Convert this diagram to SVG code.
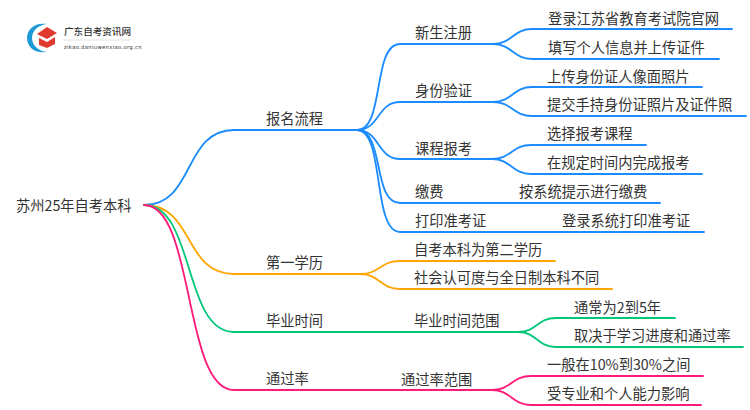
<svg xmlns="http://www.w3.org/2000/svg" width="750" height="410" viewBox="0 0 750 410">
<style>
text{font-family:"Noto Sans CJK SC","Noto Sans",sans-serif;font-size:14.25px;fill:#333}
.l{fill:none;stroke-width:1.8;stroke-linecap:round}
.b{stroke:#1a8cff}.o{stroke:#ffa500}.g{stroke:#00c878}.p{stroke:#ff1a7a}
</style>
<rect width="750" height="410" fill="#fff"/>
<g id="connectors">
<g class="l b">
<path d="M144 205C195 205 183 130 234 130H357"/>
<path d="M357 130C385 130 372 44 400 44H493"/>
<path d="M357 130C380 130 377 102 400 102H493"/>
<path d="M357 130C380 130 377 159 400 159H492"/>
<path d="M357 130C385 130 372 203 400 203H660"/>
<path d="M357 130C385 130 372 232 400 232H704"/>
<path d="M493 44C512 44 513 29 532 29H732"/>
<path d="M493 44C512 44 513 59 532 59H719"/>
<path d="M493 102C512 102 513 87 532 87H702"/>
<path d="M493 102C512 102 513 116 532 116H746"/>
<path d="M492 159C511 159 512 145 531 145H646"/>
<path d="M492 159C511 159 512 174 531 174H702"/>
</g>
<g class="l o">
<path d="M144 205C195 205 183 274 234 274H360"/>
<path d="M360 274C380 274 380 261 400 261H555"/>
<path d="M360 274C380 274 380 289 400 289H612"/>
</g>
<g class="l g">
<path d="M144 205C195 205 183 332 234 332H518"/>
<path d="M518 332C537 332 537 318 556 318H675"/>
<path d="M518 332C537 332 537 347 556 347H743"/>
</g>
<g class="l p">
<path d="M144 205C195 205 183 390 234 390H492"/>
<path d="M492 390C511 390 512 376 531 376H703"/>
<path d="M492 390C511 390 512 405 531 405H701"/>
</g>
</g>
<g id="logo">
<path d="M47 24C35 22 27 29 27 38C27 47 35 54 47 52C38 51 32 45 32 38C32 31 38 25 47 24Z" fill="#1e9bd7"/>
<path d="M37 34L47 27L57 33L47 39Z" fill="#e03a2e"/>
<path d="M39 38L47 42L55 37V44L47 48L39 45Z" fill="#e03a2e"/>
<text x="64" y="35" style="font-size:9.6px;font-weight:500">广东自考资讯网</text>
<path d="M63 40H131" stroke="#e2e2e2" stroke-width="1"/>
<text x="64" y="49" style="font-size:5.3px;font-family:'DejaVu Sans',sans-serif;letter-spacing:.3px">zikao.daniuwenxiao.org.cn</text>
</g>
<g id="root"><text x="16" y="211">苏州25年自考本科</text></g>
<g id="n1"><text x="266" y="124">报名流程</text></g>
<g id="n11"><text x="415" y="38">新生注册</text></g>
<g id="n111"><text x="548" y="24">登录江苏省教育考试院官网</text></g>
<g id="n112"><text x="548" y="53">填写个人信息并上传证件</text></g>
<g id="n12"><text x="415" y="96">身份验证</text></g>
<g id="n121"><text x="547" y="82">上传身份证人像面照片</text></g>
<g id="n122"><text x="547" y="110">提交手持身份证照片及证件照</text></g>
<g id="n13"><text x="415" y="154">课程报考</text></g>
<g id="n131"><text x="547" y="139">选择报考课程</text></g>
<g id="n132"><text x="547" y="168">在规定时间内完成报考</text></g>
<g id="n14"><text x="415" y="197">缴费</text></g>
<g id="n141"><text x="519" y="197">按系统提示进行缴费</text></g>
<g id="n15"><text x="415" y="226">打印准考证</text></g>
<g id="n151"><text x="562" y="226">登录系统打印准考证</text></g>
<g id="n2"><text x="266" y="268">第一学历</text></g>
<g id="n21"><text x="414" y="255">自考本科为第二学历</text></g>
<g id="n22"><text x="414" y="283">社会认可度与全日制本科不同</text></g>
<g id="n3"><text x="266" y="326">毕业时间</text></g>
<g id="n31"><text x="414" y="326">毕业时间范围</text></g>
<g id="n311"><text x="574" y="313">通常为2到5年</text></g>
<g id="n312"><text x="574" y="341">取决于学习进度和通过率</text></g>
<g id="n4"><text x="266" y="384">通过率</text></g>
<g id="n41"><text x="401" y="385">通过率范围</text></g>
<g id="n411"><text x="547" y="370">一般在10%到30%之间</text></g>
<g id="n412"><text x="547" y="399">受专业和个人能力影响</text></g>
</svg>
